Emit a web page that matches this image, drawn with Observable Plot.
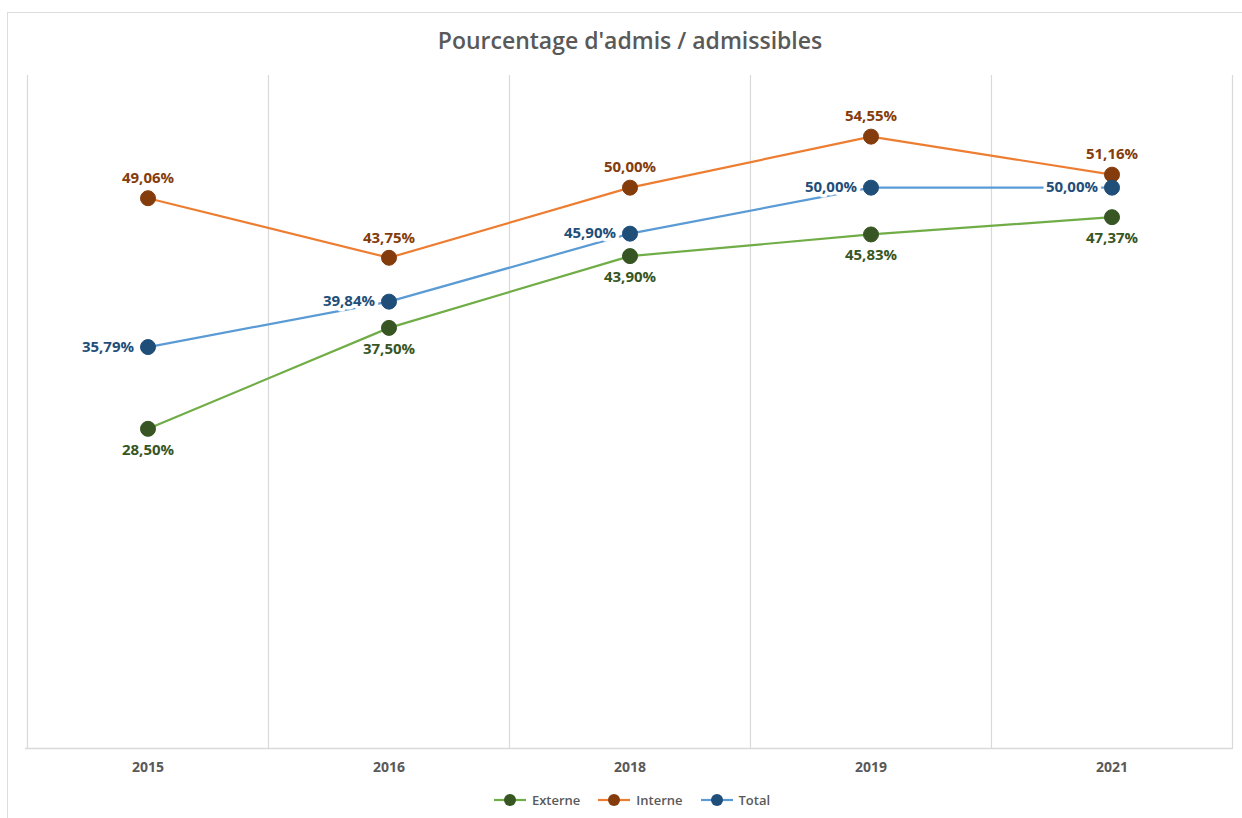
<!DOCTYPE html>
<html>
<head>
<meta charset="utf-8">
<script src="https://cdn.jsdelivr.net/npm/d3@7"></script>
<script src="https://cdn.jsdelivr.net/npm/@observablehq/plot@0.6"></script>
<style>
  html, body { margin: 0; padding: 0; background: #fff; }
  body { position: relative; width: 1242px; height: 818px; overflow: hidden; font-family: "Open Sans", sans-serif; }
  #frame { position: absolute; left: 7px; top: 12px; width: 1300px; height: 900px; border-left: 1px solid #dcdcdc; border-top: 1px solid #dcdcdc; z-index: 0; }
  #title { position: absolute; left: 0; top: 25px; width: 1260px; text-align: center; font-size: 23px; line-height: 30px; font-weight: 600; color: #595959; z-index: 1; }
  #chart { position: absolute; left: 0; top: 60px; z-index: 1; }
  #chart svg { background: transparent !important; }
  #legend { position: absolute; left: 0; top: 791px; width: 1264px; display: flex; justify-content: center; align-items: center; gap: 18px; font-size: 13px; font-weight: 600; color: #595959; z-index: 1; }
  .item { display: flex; align-items: center; gap: 6px; }
</style>
</head>
<body>
<div id="frame"></div>
<div id="title">Pourcentage d'admis / admissibles</div>
<div id="chart"></div>
<div id="legend"></div>
<script>
const years = ["2015", "2016", "2018", "2019", "2021"];
const seriesNames = ["Externe", "Interne", "Total"];
const externe = [28.50, 37.50, 43.90, 45.83, 47.37];
const interne = [49.06, 43.75, 50.00, 54.55, 51.16];
const total = [35.79, 39.84, 45.90, 50.00, 50.00];
const lineColors = ["#70ad47", "#ed7d31", "#5b9bd5"];
const markerColors = ["#375623", "#843c0c", "#1f4e79"];

const valuesBySeries = [externe, interne, total];
const data = [];
seriesNames.forEach((s, i) => {
  years.forEach((y, j) => data.push({series: s, year: y, value: valuesBySeries[i][j]}));
});
const fmt = v => v.toFixed(2).replace(".", ",") + "%";
const bySeries = s => data.filter(d => d.series === s);

// vertical gridlines at band boundaries, computed from the x band scale
function bandGrid(index, scales, values, dimensions) {
  const x = scales.x;
  const dom = years;
  const bw = typeof x.bandwidth === "function" ? x.bandwidth() : (x.bandwidth ?? (dimensions.width - dimensions.marginLeft - dimensions.marginRight) / dom.length);
  const g = d3.create("svg:g");
  const top = scales.y(60), bottom = scales.y(0);
  const edges = dom.map(d => x(d)).concat([x(dom[dom.length - 1]) + bw]);
  edges.forEach(px => {
    g.append("line").attr("x1", px + 0.5).attr("x2", px + 0.5)
      .attr("y1", top).attr("y2", bottom)
      .attr("stroke", "#d9d9d9").attr("stroke-width", 1.2);
  });
  return g.node();
}

const marks = [
  bandGrid,
  Plot.ruleY([0], {stroke: "#d9d9d9", strokeWidth: 1.5}),
  Plot.axisX({tickSize: 0, tickPadding: 14, fontSize: 14, fontWeight: 700, fill: "#595959"})
];
seriesNames.forEach((s, i) => {
  marks.push(Plot.line(bySeries(s), {x: "year", y: "value", stroke: lineColors[i], strokeWidth: 2.2}));
});
seriesNames.forEach((s, i) => {
  marks.push(Plot.dot(bySeries(s), {x: "year", y: "value", r: 7.5, fill: markerColors[i], stroke: markerColors[i], strokeWidth: 1}));
});
// labels: Externe below, Interne above, Total left
marks.push(Plot.text(bySeries("Externe"), {x: "year", y: "value", text: d => fmt(d.value), dy: 21, fill: markerColors[0], stroke: "white", strokeWidth: 7, fontSize: 15, fontWeight: 700}));
marks.push(Plot.text(bySeries("Interne"), {x: "year", y: "value", text: d => fmt(d.value), dy: -20, fill: markerColors[1], stroke: "white", strokeWidth: 7, fontSize: 15, fontWeight: 700}));
marks.push(Plot.text(bySeries("Total"), {x: "year", y: "value", text: d => fmt(d.value), dx: -14, textAnchor: "end", fill: markerColors[2], stroke: "white", strokeWidth: 7, fontSize: 15, fontWeight: 700}));

const chart = Plot.plot({
  width: 1242,
  height: 720,
  marginLeft: 25,
  marginRight: 9,
  marginTop: 15,
  marginBottom: 32,
  style: {fontFamily: "'Open Sans', sans-serif", fontSize: "14px", background: "transparent", overflow: "visible"},
  x: {type: "band", domain: years, padding: 0, label: null},
  y: {domain: [0, 60], axis: null},
  marks
});
document.getElementById("chart").appendChild(chart);
d3.select(chart).selectAll('g[aria-label="x-axis tick label"] text, g[aria-label="x-axis"] text')
  .attr("font-size", 14).attr("font-weight", 700).attr("fill", "#595959");
d3.select(chart).selectAll('g[aria-label="x-axis tick label"], g[aria-label="x-axis"]')
  .attr("font-size", 14).attr("font-weight", 700);

// legend
const legend = d3.select("#legend");
seriesNames.forEach((s, i) => {
  const item = legend.append("div").attr("class", "item");
  const svg = item.append("svg").attr("width", 32).attr("height", 14);
  svg.append("line").attr("x1", 0).attr("x2", 32).attr("y1", 7).attr("y2", 7).attr("stroke", lineColors[i]).attr("stroke-width", 2.2);
  svg.append("circle").attr("cx", 16).attr("cy", 7).attr("r", 6).attr("fill", markerColors[i]);
  item.append("span").text(s);
});
</script>
</body>
</html>
